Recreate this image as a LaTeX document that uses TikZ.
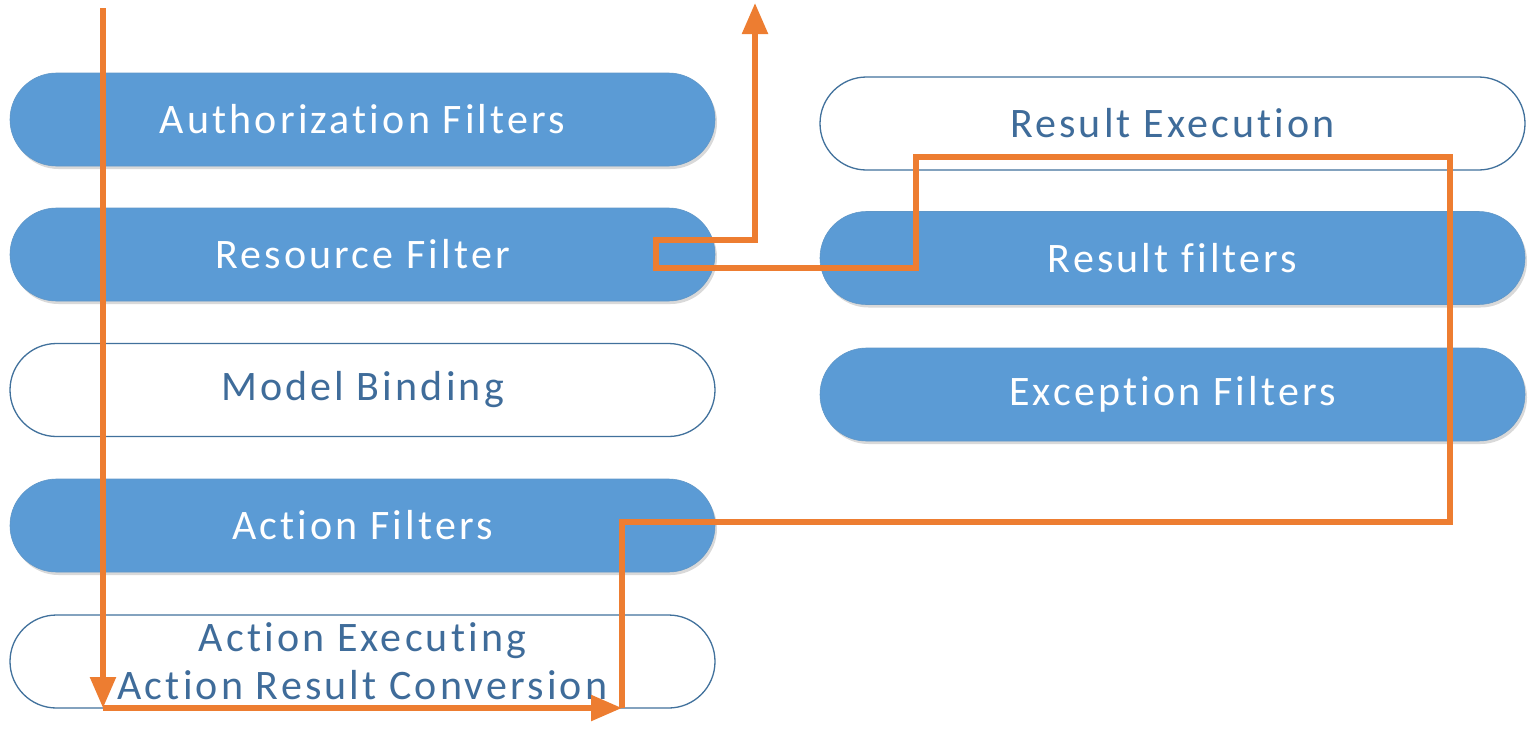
\documentclass[tikz,border=0pt]{standalone}
\usepackage{fontspec}
\setmainfont{Carlito}
\newfontfamily\pillfont[LetterSpace=7.5,Ligatures={NoCommon}]{Carlito}
\usepackage{xcolor}
\usetikzlibrary{shapes.misc, shadows, arrows.meta}

\definecolor{pillblue}{HTML}{5B9BD5}
\definecolor{pilledge}{HTML}{41719C}
\definecolor{pilltext}{HTML}{3F6C9A}
\definecolor{flow}{HTML}{ED7D31}

\begin{document}
\begin{tikzpicture}[x=1pt,y=-1pt,
  pill/.style={rounded rectangle, minimum width=705pt, minimum height=93pt,
    inner sep=0pt, align=center, font=\pillfont\fontsize{42}{48}\selectfont},
  filled/.style={pill, fill=pillblue, draw=pillblue!85!gray, line width=0.6pt, text=white,
    drop shadow={shadow xshift=2pt, shadow yshift=-3pt, opacity=0.3}},
  hollow/.style={pill, fill=white, draw=pilledge, line width=1.3pt, text=pilltext},
  route/.style={draw=flow, line width=5.5pt},
  tip/.style={-{Triangle[width=25pt,length=31pt]}}]
\useasboundingbox (0,0) rectangle (1533,729);

\node[filled] (auth) at (362.5,119.5) {Authorization Filters};
\node[filled] (res) at (362.5,254.5) {Resource Filter};
\node[hollow] (bind) at (362.5,390) {Model Binding};
\node[filled] (act) at (362.5,525.5) {Action Filters};
\node[hollow] (exec) at (362.5,661.5) {Action Executing\\Action Result Conversion};

\node[hollow] (rexec) at (1172.5,123.5) {Result Execution};
\node[filled] (rfilt) at (1172.5,258) {Result filters};
\node[filled] (exc) at (1172.5,394.5) {Exception Filters};

\coordinate (start) at (103,8);
\coordinate (bl) at (103,708);
\coordinate (br) at (622,708);
\coordinate (turn) at (1450,522);
\coordinate (top) at (916,157);
\coordinate (back) at (656,268);
\coordinate (up) at (755,240);
\coordinate (out) at (755,3);

\draw[route,tip] (start) -- (bl);
\draw[route,tip] (bl) -- (br);
\draw[route,tip,line join=miter] (br) |- (turn) |- (top) |- (back) |- (up) -- (out);
\end{tikzpicture}
\end{document}
